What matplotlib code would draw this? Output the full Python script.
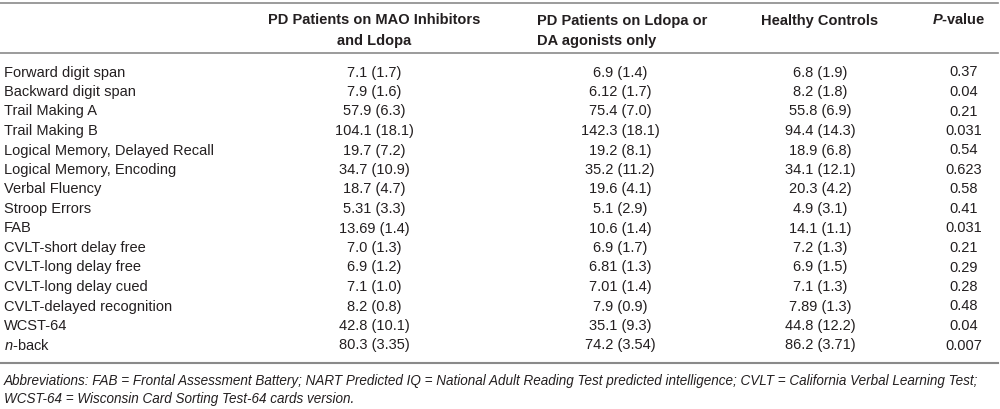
import matplotlib.pyplot as plt
from matplotlib.lines import Line2D

# table content
measures = ["Forward digit span", "Backward digit span", "Trail Making A", "Trail Making B",
            "Logical Memory, Delayed Recall", "Logical Memory, Encoding", "Verbal Fluency",
            "Stroop Errors", "FAB", "CVLT-short delay free", "CVLT-long delay free",
            "CVLT-long delay cued", "CVLT-delayed recognition", "WCST-64", "$\\mathit{n}$-back"]
mao_ldopa = ["7.1 (1.7)", "7.9 (1.6)", "57.9 (6.3)", "104.1 (18.1)", "19.7 (7.2)", "34.7 (10.9)",
             "18.7 (4.7)", "5.31 (3.3)", "13.69 (1.4)", "7.0 (1.3)", "6.9 (1.2)", "7.1 (1.0)",
             "8.2 (0.8)", "42.8 (10.1)", "80.3 (3.35)"]
ldopa_only = ["6.9 (1.4)", "6.12 (1.7)", "75.4 (7.0)", "142.3 (18.1)", "19.2 (8.1)", "35.2 (11.2)",
              "19.6 (4.1)", "5.1 (2.9)", "10.6 (1.4)", "6.9 (1.7)", "6.81 (1.3)", "7.01 (1.4)",
              "7.9 (0.9)", "35.1 (9.3)", "74.2 (3.54)"]
controls = ["6.8 (1.9)", "8.2 (1.8)", "55.8 (6.9)", "94.4 (14.3)", "18.9 (6.8)", "34.1 (12.1)",
            "20.3 (4.2)", "4.9 (3.1)", "14.1 (1.1)", "7.2 (1.3)", "6.9 (1.5)", "7.1 (1.3)",
            "7.89 (1.3)", "44.8 (12.2)", "86.2 (3.71)"]
p_values = ["0.37", "0.04", "0.21", "0.031", "0.54", "0.623", "0.58", "0.41", "0.031", "0.21",
            "0.29", "0.28", "0.48", "0.04", "0.007"]
footnote = ["Abbreviations: FAB = Frontal Assessment Battery; NART Predicted IQ = National Adult Reading "
            "Test predicted intelligence; CVLT = California Verbal Learning Test;",
            "WCST-64 = Wisconsin Card Sorting Test-64 cards version."]

W, H = 1000, 409
fig = plt.figure(figsize=(W / 100, H / 100), dpi=100)
fig.patch.set_facecolor("white")
plt.rcParams['font.family'] = ['Liberation Sans', 'DejaVu Sans']
plt.rcParams['mathtext.fontset'] = 'custom'
plt.rcParams['mathtext.rm'] = 'Liberation Sans'
plt.rcParams['mathtext.it'] = 'Liberation Sans:italic'
plt.rcParams['mathtext.bf'] = 'Liberation Sans:bold'
plt.rcParams['mathtext.bfit'] = 'Liberation Sans:bold:italic'
txt_col = "#231f20"
fs = 10.5


def px(x, y):
    return x / W, 1 - y / H


def put(x, y, s, **kw):
    # y is the text's visual centre; draw on baseline for steady rows
    kw.setdefault("fontsize", fs)
    kw.setdefault("color", txt_col)
    fig.text(*px(x, y + 4.5), s, va="baseline", **kw)


def hline(y, lw=1.2):
    x0, y0 = px(0, y)
    x1, _ = px(998, y)
    fig.add_artist(Line2D([x0, x1], [y0, y0], color="#8a8a8a", lw=lw))


hline(3)
hline(53)
hline(363, lw=1.5)

# header
put(374, 20, "PD Patients on MAO Inhibitors", ha="center", weight="bold")
put(374, 40, "and Ldopa", ha="center", weight="bold")
put(537, 20, "PD Patients on Ldopa or", ha="left", weight="bold")
put(537, 40, "DA agonists only", ha="left", weight="bold")
put(820, 20, "Healthy Controls", ha="center", weight="bold")
put(959, 20, "$\\mathbfit{P}$-value", ha="center", weight="bold")

# rows
cols = [(374, mao_ldopa), (620, ldopa_only), (820, controls), (964, p_values)]
for i, name in enumerate(measures):
    y = 72 + 19.5 * i
    put(4, y, name, ha="left")
    for x, vals in cols:
        put(x, y, vals[i], ha="center")

put(4, 380, footnote[0], ha="left", style="italic", fontsize=9.75)
put(4, 398, footnote[1], ha="left", style="italic", fontsize=9.75)

fig.savefig("out.png", dpi=100, facecolor="white")
